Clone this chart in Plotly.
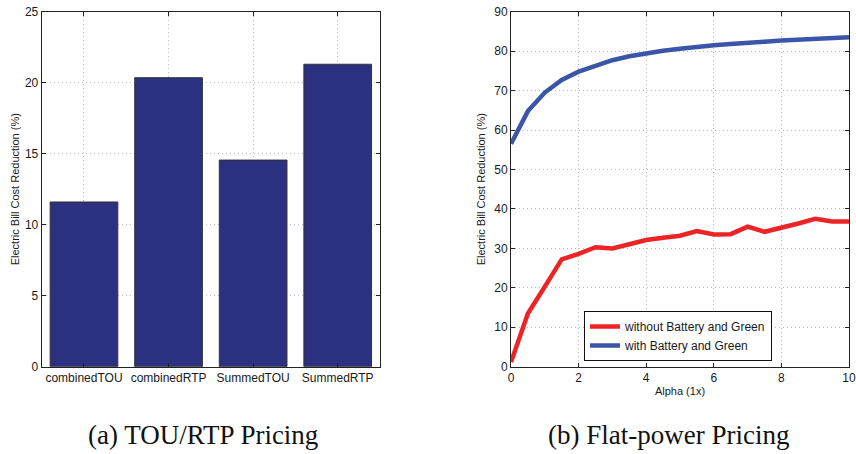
import plotly.graph_objects as go

# ---- data ----
bar_categories = ["combinedTOU", "combinedRTP", "SummedTOU", "SummedRTP"]
bar_values = [11.6, 20.35, 14.55, 21.3]

alpha = [0, 0.5, 1, 1.5, 2, 2.5, 3, 3.5, 4, 4.5, 5, 5.5, 6, 6.5, 7, 7.5, 8, 8.5, 9, 9.5, 10]
without_bg = [1.2, 13.5, 20.3, 27.2, 28.6, 30.3, 30.0, 31.1, 32.1, 32.7, 33.2, 34.4, 33.5, 33.6,
              35.5, 34.2, 35.2, 36.3, 37.5, 36.8, 36.8]
with_bg = [56.5, 64.8, 69.5, 72.7, 74.8, 76.4, 77.7, 78.7, 79.5, 80.1, 80.6, 81.1, 81.5, 81.8,
           82.2, 82.4, 82.7, 82.9, 83.1, 83.3, 83.5]

W, H = 856, 454
FONT = "Liberation Sans"

fig = go.Figure()

fig.add_trace(go.Bar(
    x=list(range(1, len(bar_categories) + 1)), y=bar_values, width=0.8,
    marker=dict(color="#2b3080", line=dict(color="#333333", width=1)),
    xaxis="x", yaxis="y", showlegend=False))

fig.add_trace(go.Scatter(
    x=alpha, y=without_bg, mode="lines", name="without Battery and Green",
    line=dict(color="#ee2326", width=4.5), xaxis="x2", yaxis="y2"))
fig.add_trace(go.Scatter(
    x=alpha, y=with_bg, mode="lines", name="with Battery and Green",
    line=dict(color="#3b55a8", width=4.5), xaxis="x2", yaxis="y2"))

def px_x(p):
    return p / W

def px_y(p):
    return 1 - p / H

ydom = [px_y(366.7), px_y(11.7)]

common_axis = dict(
    showline=True, linecolor="#222222", linewidth=1, mirror="allticks",
    ticks="inside", ticklen=4, tickcolor="#222222",
    showgrid=True, gridcolor="#b8b8b8", griddash="1px,3px", gridwidth=1,
    zeroline=False, automargin=False,
    tickfont=dict(family=FONT, size=12, color="#1a1a1a"),
)

title_font = dict(family=FONT, size=11, color="#1a1a1a")

fig.update_layout(
    width=W, height=H, margin=dict(l=0, r=0, t=0, b=0, autoexpand=False),
    paper_bgcolor="white", plot_bgcolor="white",
    xaxis=dict(domain=[px_x(41.7), px_x(380)], range=[0.5, 4.5],
               tickvals=list(range(1, len(bar_categories) + 1)), ticktext=bar_categories,
               anchor="y", **common_axis),
    yaxis=dict(domain=ydom, range=[0, 25], tickvals=[0, 5, 10, 15, 20, 25], anchor="x",
               title=dict(text="Electric Bill Cost Reduction (%)", font=title_font, standoff=3),
               **common_axis),
    xaxis2=dict(domain=[px_x(511), px_x(849)], range=[0, 10],
                tickvals=[0, 2, 4, 6, 8, 10], anchor="y2",
                title=dict(text="Alpha (1x)", font=title_font, standoff=3),
                **common_axis),
    yaxis2=dict(domain=ydom, range=[0, 90], tickvals=list(range(0, 91, 10)), anchor="x2",
                title=dict(text="Electric Bill Cost Reduction (%)", font=title_font, standoff=6),
                **common_axis),
    legend=dict(x=px_x(584), y=px_y(361), xanchor="left", yanchor="bottom",
                bordercolor="#111111", borderwidth=1, bgcolor="white",
                font=dict(family=FONT, size=12, color="#1a1a1a"),
                tracegroupgap=0, itemwidth=30),
    annotations=[
        dict(text="(a) TOU/RTP Pricing", x=px_x(203), y=px_y(435), xref="paper", yref="paper",
             xanchor="center", yanchor="middle",
             showarrow=False, font=dict(family="Liberation Serif", size=27, color="#111111")),
        dict(text="(b) Flat-power Pricing", x=px_x(668.5), y=px_y(435), xref="paper", yref="paper",
             xanchor="center", yanchor="middle",
             showarrow=False, font=dict(family="Liberation Serif", size=27, color="#111111")),
    ],
)

fig.write_html("out.html")
